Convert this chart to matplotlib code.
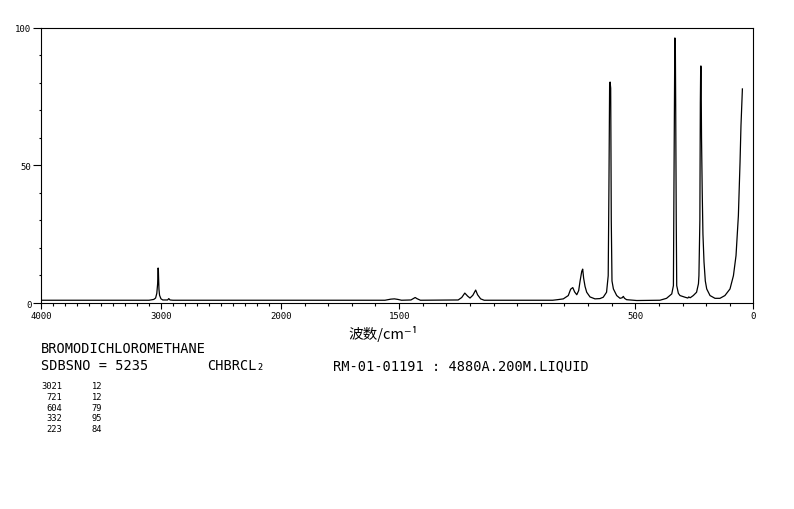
import numpy as np
import matplotlib
matplotlib.use("Agg")
import matplotlib.pyplot as plt

# Espectro Raman (numero de onda em cm-1, intensidade relativa)
numero_onda = [4000, 3100, 3060, 3045, 3035, 3028, 3024, 3022, 3020, 3017, 3012, 3000,
               2985, 2945, 2935, 2925, 2900, 1560, 1535, 1520, 1505, 1490, 1450, 1440,
               1432, 1425, 1410, 1250, 1235, 1222, 1210, 1200, 1188, 1176, 1168, 1155,
               1140, 850, 830, 805, 784, 774, 765, 757, 748, 740, 734, 727, 723, 719,
               713, 706, 692, 671, 650, 636, 622, 615, 612, 609, 607, 604.5, 602, 599,
               593, 579, 565, 556, 551, 546, 537, 494, 396, 368, 346, 339, 336.5, 333,
               331, 329.5, 327, 325, 318, 311, 290, 278, 274, 268, 255, 241, 233, 231,
               227, 225, 223.5, 222, 220, 217, 214, 209.5, 204, 198, 184, 163, 142, 121,
               99.5, 85, 74, 64, 57, 53, 47]
intensidade = [1.0, 1.0, 1.3, 1.8, 3.5, 7.0, 12.7, 12.0, 9.0, 5.0, 2.8, 1.5,
               1.1, 1.1, 1.6, 1.1, 1.0, 1.0, 1.4, 1.5, 1.3, 1.0, 1.1, 1.6,
               2.0, 1.6, 1.0, 1.1, 2.0, 3.6, 2.5, 1.8, 2.8, 4.7, 3.0, 1.5,
               1.0, 1.0, 1.2, 1.5, 2.7, 5.0, 5.6, 4.0, 3.0, 4.5, 8.0, 11.5, 12.3, 9.0,
               6.0, 3.9, 2.2, 1.5, 1.6, 2.1, 3.9, 9.9, 41.0, 79.5, 80.2, 78.0, 30.0, 8.0,
               5.1, 2.7, 1.7, 1.9, 2.4, 1.7, 1.2, 0.9, 1.0, 1.7, 3.3, 6.3, 45.0, 96.2,
               96.0, 74.0, 30.0, 6.3, 3.5, 2.7, 2.1, 1.8, 2.2, 1.9, 2.7, 3.9, 7.0, 9.9,
               30.0, 72.8, 86.0, 86.0, 60.0, 40.0, 25.0, 14.9, 8.0, 5.1, 2.7, 1.7, 1.7, 2.7,
               5.1, 9.9, 17.2, 31.7, 51.1, 64.4, 77.7]

# Lista de picos impressa abaixo do grafico
picos_onda = ["3021", "721", "604", "332", "223"]
picos_int = ["12", "12", "79", "95", "84"]

ticks_x = [4000, 3000, 2000, 1500, 500, 0]
ticks_y = [0, 50, 100]


def escala_direta(w):
    # abaixo de 2000 cm-1 a escala e quase o dobro
    w = np.asarray(w, dtype=float)
    return np.where(w < 2000, w * 0.23625, 472.5 + (w - 2000) * 0.12)


def escala_inversa(u):
    u = np.asarray(u, dtype=float)
    return np.where(u < 472.5, u / 0.23625, 2000 + (u - 472.5) / 0.12)


plt.rcParams['font.family'] = ['DejaVu Sans Mono']

fig = plt.figure(figsize=(7.94, 5.10), dpi=100)
ax = fig.add_axes([41 / 794, 1 - 304 / 510, 712.5 / 794, 275.5 / 510])
ax.set_xscale('function', functions=(escala_direta, escala_inversa))
ax.plot(numero_onda, intensidade, color='black', lw=0.9)
ax.set_xlim(4000, 0)
ax.set_ylim(0, 100)

# Marcas dos eixos
ax.set_xticks(ticks_x)
ax.set_xticklabels([str(t) for t in ticks_x])
ax.set_xticks([w for w in range(100, 4000, 100) if w not in ticks_x], minor=True)
ax.set_yticks(ticks_y)
ax.set_yticklabels([str(t) for t in ticks_y])
ax.set_yticks([v for v in range(10, 100, 10) if v not in ticks_y], minor=True)
ax.tick_params(axis='x', which='major', direction='out', length=4, width=0.8,
               labelsize=6.5, pad=2)
ax.tick_params(axis='x', which='minor', direction='out', length=1.8, width=0.8)
ax.tick_params(axis='y', which='major', direction='out', length=6, width=0.8,
               labelsize=6.5, pad=1)
ax.tick_params(axis='y', which='minor', direction='out', length=1.8, width=0.8)
for lado in ax.spines.values():
    lado.set_linewidth(0.8)

# Rotulo do eixo x
fig.text(383 / 794, 1 - 334 / 510, "波数/cm⁻¹", ha='center', va='center', fontsize=10.5,
         family=['Noto Sans CJK SC', 'DejaVu Sans'])

# Informacoes da amostra
fig.text(41 / 794, 1 - 349 / 510, "BROMODICHLOROMETHANE", ha='left', va='center', fontsize=9.8)
fig.text(41 / 794, 1 - 366 / 510, "SDBSNO = 5235", ha='left', va='center', fontsize=9.8)
fig.text(207 / 794, 1 - 366 / 510, "CHBRCL₂", ha='left', va='center', fontsize=9.8)
fig.text(333 / 794, 1 - 366 / 510, "RM-01-01191 : 4880A.200M.LIQUID", ha='left',
         va='center', fontsize=9.8)

for i in range(len(picos_onda)):
    y = 1 - (387 + i * 10.6) / 510
    fig.text(62 / 794, y, picos_onda[i], ha='right', va='center', fontsize=6.3)
    fig.text(102 / 794, y, picos_int[i], ha='right', va='center', fontsize=6.3)

fig.savefig("out.png", dpi=100)
